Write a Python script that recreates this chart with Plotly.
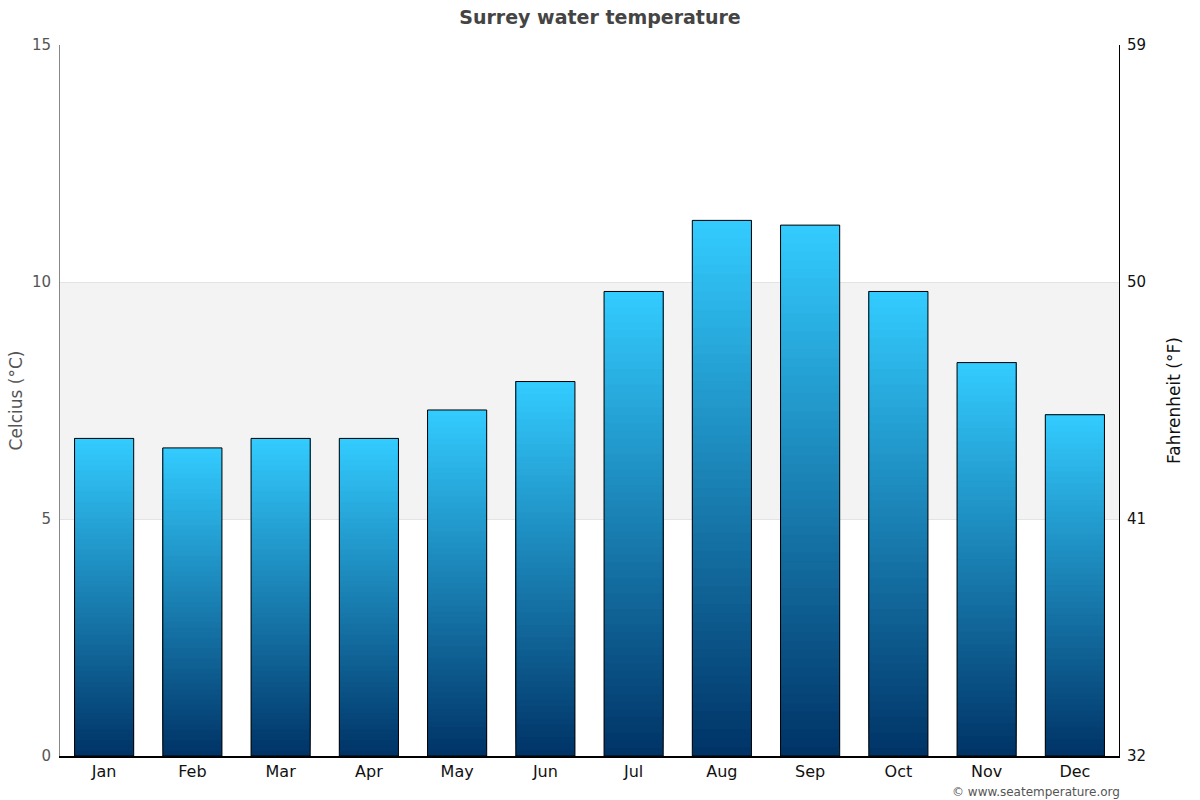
import plotly.graph_objects as go

months = ["Jan", "Feb", "Mar", "Apr", "May", "Jun", "Jul", "Aug", "Sep", "Oct", "Nov", "Dec"]
temps_c = [6.7, 6.5, 6.7, 6.7, 7.3, 7.9, 9.8, 11.3, 11.2, 9.8, 8.3, 7.2]
c_ticks = [0, 5, 10, 15]
f_ticks = [32, 41, 50, 59]

top_rgb = (51, 204, 255)
bot_rgb = (0, 51, 102)
N = 60

fig = go.Figure()
for i in range(N):
    t = (i + 0.5) / N
    r = round(bot_rgb[0] + (top_rgb[0] - bot_rgb[0]) * t)
    g = round(bot_rgb[1] + (top_rgb[1] - bot_rgb[1]) * t)
    b = round(bot_rgb[2] + (top_rgb[2] - bot_rgb[2]) * t)
    fig.add_trace(go.Bar(
        x=months,
        y=[v - v * i / N for v in temps_c],
        base=[v * i / N for v in temps_c],
        marker=dict(color=f"rgb({r},{g},{b})", line=dict(width=0)),
        hoverinfo="skip",
        showlegend=False,
    ))
fig.add_trace(go.Bar(
    x=months, y=temps_c,
    marker=dict(color="rgba(0,0,0,0)", line=dict(color="black", width=1)),
    showlegend=False,
    hovertemplate="%{x}: %{y} °C<extra></extra>",
))
fig.add_trace(go.Scatter(
    x=months, y=[None] * len(months), yaxis="y2", showlegend=False, hoverinfo="skip",
))

fig.add_shape(type="rect", xref="paper", yref="y", x0=0, x1=1, y0=5, y1=10,
              fillcolor="#f3f3f3", line=dict(width=0), layer="below")

fig.update_layout(
    width=1200, height=800,
    barmode="overlay", bargap=0.33,
    plot_bgcolor="white", paper_bgcolor="white",
    margin=dict(l=60, r=81, t=45, b=44),
    font=dict(family="DejaVu Sans", size=14, color="#555555"),
    title=dict(text="<b>Surrey water temperature</b>", x=0.5, xanchor="center",
               y=0.978, yanchor="middle", font=dict(size=19, color="#444444")),
    xaxis=dict(showline=True, linecolor="black", linewidth=2, ticks="",
               range=[-0.5, len(months) - 0.5],
               tickfont=dict(size=16, color="#111111"), showgrid=False,
               fixedrange=True),
    yaxis=dict(range=[0, 15], tickvals=c_ticks, showgrid=True, gridcolor="#e3e3e3",
               showline=True, linecolor="#888888", linewidth=1, zeroline=False,
               ticklabelstandoff=5,
               title=dict(text="Celcius (°C)", font=dict(size=17, color="#555555"), standoff=4),
               tickfont=dict(size=15, color="#555555"), ticks=""),
    yaxis2=dict(range=[32, 59], tickvals=f_ticks, overlaying="y", side="right",
                showgrid=False, showline=True, linecolor="black", linewidth=1,
                zeroline=False, ticklabelstandoff=4,
                title=dict(text="Fahrenheit (°F)", font=dict(size=17, color="#111111"), standoff=23),
                tickfont=dict(size=15, color="#111111"), ticks=""),
    annotations=[dict(text="© www.seatemperature.org", xref="paper", yref="paper",
                      x=1.0, y=-0.0506, xanchor="right", yanchor="middle", showarrow=False,
                      xshift=3, font=dict(size=12, color="#555555"))],
)

fig.write_html("out.html", config={"displayModeBar": False},
               post_script="document.body.style.margin='0';document.body.style.overflow='hidden';")
